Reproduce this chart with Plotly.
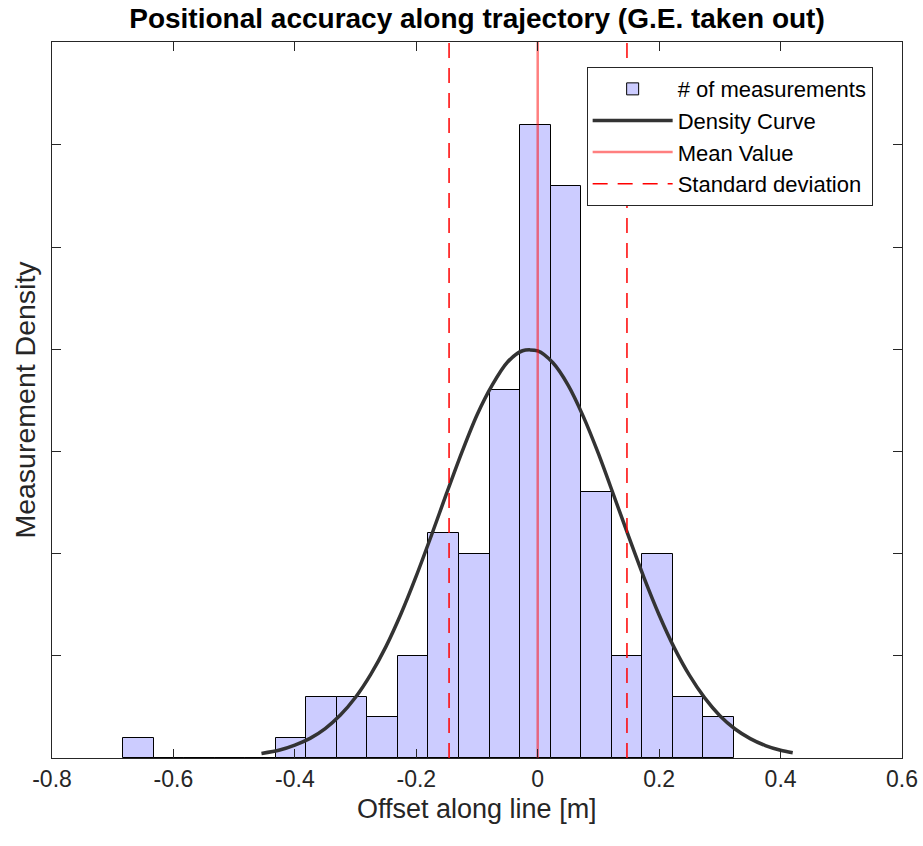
import plotly.graph_objects as go

# ---- data ----
bin_start = -0.683
bin_width = 0.0503
counts = [1, 0, 0, 0, 0, 1, 3, 3, 2, 5, 11, 10, 18, 31, 28, 13, 5, 10, 3, 2]

curve_x = [-0.455, -0.425, -0.40, -0.375, -0.35, -0.325, -0.30, -0.275, -0.25, -0.225,
           -0.20, -0.175, -0.15, -0.125, -0.10, -0.075, -0.05, -0.025, 0.00, 0.025,
           0.05, 0.075, 0.10, 0.125, 0.15, 0.175, 0.20, 0.225, 0.25, 0.275,
           0.30, 0.325, 0.35, 0.375, 0.40, 0.42]
curve_y = [0.22, 0.39, 0.63, 0.96, 1.44, 2.10, 2.97, 4.09, 5.45, 7.07,
           8.91, 10.90, 12.96, 14.96, 16.79, 18.25, 19.37, 19.93, 19.92, 19.34,
           18.25, 16.72, 14.89, 12.87, 10.82, 8.83, 7.0, 5.39, 4.04, 2.94,
           2.07, 1.42, 0.95, 0.61, 0.38, 0.26]

mean_value = 0.0
std_lines = [-0.146, 0.147]

x_ticks = [-0.8, -0.6, -0.4, -0.2, 0, 0.2, 0.4, 0.6]
x_tick_text = ["-0.8", "-0.6", "-0.4", "-0.2", "0", "0.2", "0.4", "0.6"]

Y_TOP = 35.04

centers = [bin_start + (i + 0.5) * bin_width for i in range(len(counts))]

FONT = "Liberation Sans, Arial, Helvetica, sans-serif"
AXC = "#262626"

fig = go.Figure()
fig.add_trace(go.Bar(
    x=centers, y=counts, width=bin_width, name="# of measurements",
    marker=dict(color="#CCCCFF", line=dict(color="black", width=1)),
))
fig.add_trace(go.Scatter(
    x=curve_x, y=curve_y, mode="lines", name="Density Curve",
    line=dict(color="#333333", width=3.5, shape="spline", smoothing=0.8),
))
fig.add_trace(go.Scatter(
    x=[mean_value, mean_value], y=[0, Y_TOP], mode="lines", name="Mean Value",
    line=dict(color="rgba(255,0,0,0.5)", width=2.5),
))
fig.add_trace(go.Scatter(
    x=[std_lines[0], std_lines[0], None, std_lines[1], std_lines[1]],
    y=[0, Y_TOP, None, 0, Y_TOP], mode="lines", name="Standard deviation",
    line=dict(color="#FF0000", width=1.5, dash="15px,10px"),
))

fig.update_layout(
    width=923, height=846,
    margin=dict(l=52, r=21, t=42, b=88, autoexpand=False),
    paper_bgcolor="white", plot_bgcolor="white",
    font=dict(family=FONT, color=AXC),
    title=dict(text="<b>Positional accuracy along trajectory (G.E. taken out)</b>",
               x=0.5168, xanchor="center", y=0.9787, yanchor="middle",
               font=dict(size=28, color="black")),
    showlegend=True,
    legend=dict(x=0.629, y=0.965, xanchor="left", yanchor="top",
                bgcolor="white", bordercolor=AXC, borderwidth=1,
                font=dict(size=22, color="black"), itemwidth=80,
                traceorder="normal"),
    bargap=0,
    annotations=[dict(text="Offset along line [m]", xref="paper", yref="paper",
                      x=0.5, y=-0.0706, xanchor="center", yanchor="middle",
                      showarrow=False, font=dict(size=27, color=AXC))],
)
fig.update_xaxes(
    range=[-0.8, 0.6], tickvals=x_ticks, ticktext=x_tick_text,
    showline=True, linecolor=AXC, linewidth=1.3, mirror="allticks",
    ticks="inside", ticklen=9, tickcolor=AXC, tickwidth=1.3,
    tickfont=dict(size=23, color=AXC), showgrid=False, zeroline=False,
    ticklabelstandoff=0, automargin=False,
)
fig.update_yaxes(
    range=[0, Y_TOP], dtick=5, showticklabels=False,
    showline=True, linecolor=AXC, linewidth=1.3, mirror="allticks",
    ticks="inside", ticklen=9, tickcolor=AXC, tickwidth=1.3,
    showgrid=False, zeroline=False, automargin=False,
    title=dict(text="Measurement Density", font=dict(size=28.5, color=AXC), standoff=6),
)

fig.write_html("out.html", config={"displayModeBar": False},
               post_script="document.body.style.margin='0';document.body.style.padding='0';")
